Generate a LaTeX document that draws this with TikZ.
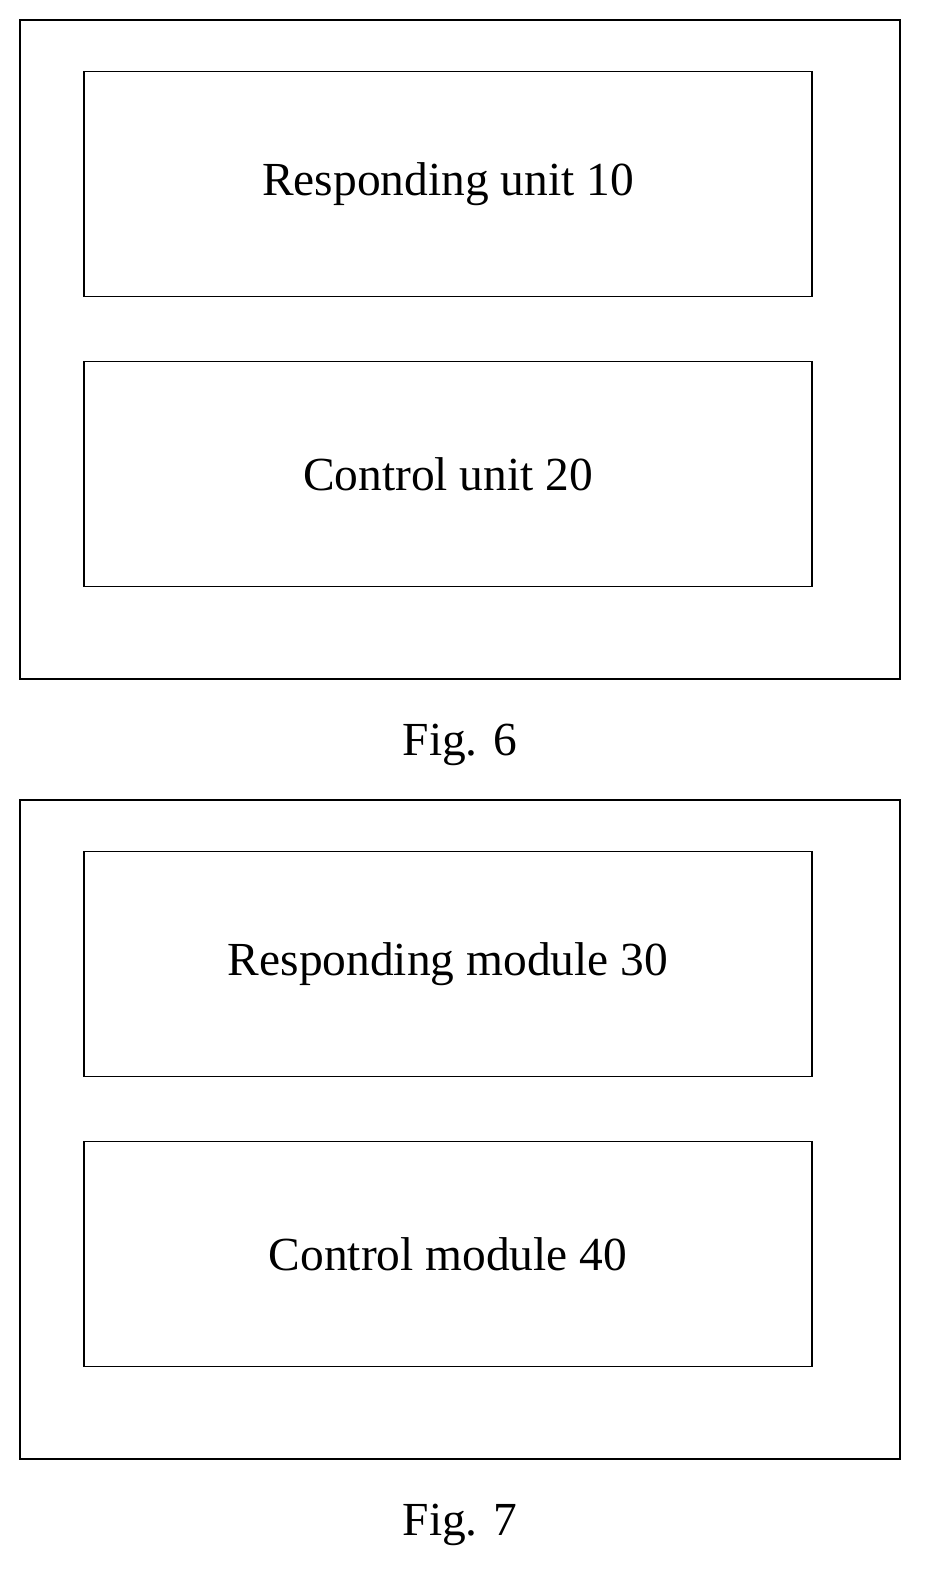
\documentclass[tikz,border=0pt]{standalone}
\usepackage{fontspec}
\setmainfont{Liberation Serif}
\usetikzlibrary{positioning}
\begin{document}
\begin{tikzpicture}[
x=0.02cm, y=-0.02cm,
OuterBox/.style={draw=black,line width=0.9pt},
UnitBox/.style={draw=black,line width=0.7pt,minimum width=14.56cm,minimum height=4.5cm,font=\fontsize{27}{31}\selectfont},
FigLabel/.style={font=\fontsize{27}{31}\selectfont}
]
\useasboundingbox (0,0) rectangle (929,1584);

% Fig. 6
\draw[OuterBox] (20,20) rectangle (900,679);
\node[UnitBox] (resp) at (448,184) {Responding unit 10};
\node[UnitBox, below=1.28cm of resp] (ctrl) {Control unit 20};
\node[FigLabel] (fig6) at (460,745) {Fig. 6};

% Fig. 7
\draw[OuterBox] (20,800) rectangle (900,1459);
\node[UnitBox] (respm) at (448,964) {Responding module 30};
\node[UnitBox, below=1.28cm of respm] (ctrlm) {Control module 40};
\node[FigLabel] (fig7) at (460,1525) {Fig. 7};
\end{tikzpicture}
\end{document}
